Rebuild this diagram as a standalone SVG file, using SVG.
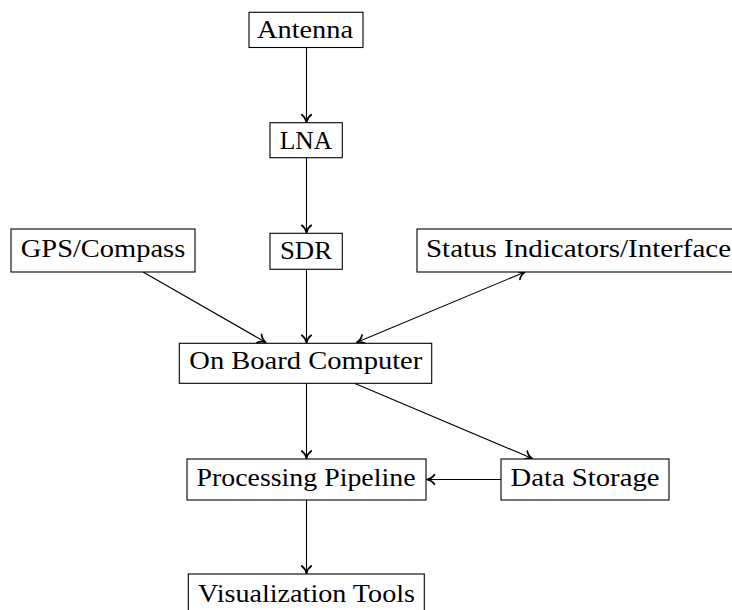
<svg xmlns="http://www.w3.org/2000/svg" width="732" height="610" viewBox="0 0 732 610">
<style>
  .box { fill: #ffffff; stroke: #000000; stroke-width: 1.1; }
  .lbl { font-family: 'Liberation Serif', 'DejaVu Serif', serif; font-size: 26px; fill: #000000; }
  .mid { text-anchor: middle; }
  .edge { fill: none; stroke: #000000; stroke-width: 1.1; }
  .end { marker-end: url(#arr); }
  .both { marker-end: url(#arr); marker-start: url(#arr); }
</style>
<defs>
  <marker id="arr" markerUnits="userSpaceOnUse" orient="auto-start-reverse" markerWidth="14" markerHeight="14" refX="0" refY="0" viewBox="-10 -7 14 14" overflow="visible">
    <path d="M-7.5,-4.8 C-5.5,-1.8 -2.5,-0.5 0,0 C-2.5,0.5 -5.5,1.8 -7.5,4.8" fill="none" stroke="#000000" stroke-width="1.7" stroke-linecap="round" stroke-linejoin="round"/>
  </marker>
</defs>
<rect width="732" height="610" fill="#ffffff"/>
<g id="connectors">
  <line class="edge end" x1="306.5" y1="47.5" x2="306.5" y2="122.2"/>
  <line class="edge end" x1="306.5" y1="157.7" x2="306.5" y2="232.8"/>
  <line class="edge end" x1="306.5" y1="269.3" x2="306.5" y2="342.8"/>
  <line class="edge end" x1="143" y1="272" x2="265.7" y2="342.3"/>
  <line class="edge both" x1="525" y1="272" x2="357" y2="342.3"/>
  <line class="edge end" x1="306.5" y1="383.3" x2="306.5" y2="458.5"/>
  <line class="edge end" x1="355" y1="383.5" x2="532.3" y2="458.5"/>
  <line class="edge end" x1="501" y1="479.5" x2="427" y2="479.5"/>
  <line class="edge end" x1="306.5" y1="500" x2="306.5" y2="573.5"/>
</g>
<g id="antenna">
  <rect class="box" x="249" y="12.3" width="114" height="35.2"/>
  <text class="lbl mid" x="305" y="37.8" textLength="96" lengthAdjust="spacingAndGlyphs">Antenna</text>
</g>
<g id="lna">
  <rect class="box" x="270" y="122.7" width="72.3" height="35"/>
  <text class="lbl mid" x="306" y="148.8" textLength="52.4" lengthAdjust="spacingAndGlyphs">LNA</text>
</g>
<g id="sdr">
  <rect class="box" x="270" y="233.3" width="72.3" height="36"/>
  <text class="lbl mid" x="306" y="259" textLength="52" lengthAdjust="spacingAndGlyphs">SDR</text>
</g>
<g id="gps">
  <rect class="box" x="11" y="229" width="184" height="43"/>
  <text class="lbl mid" x="103" y="256.5" textLength="164.5" lengthAdjust="spacingAndGlyphs">GPS/Compass</text>
</g>
<g id="status">
  <rect class="box" x="417" y="229" width="330" height="43"/>
  <text class="lbl" x="426" y="256.5" textLength="305" lengthAdjust="spacingAndGlyphs">Status Indicators/Interface</text>
</g>
<g id="obc">
  <rect class="box" x="179.3" y="343.3" width="252.4" height="40"/>
  <text class="lbl mid" x="305.8" y="369.3" textLength="233" lengthAdjust="spacingAndGlyphs">On Board Computer</text>
</g>
<g id="pipeline">
  <rect class="box" x="187" y="459" width="239" height="41"/>
  <text class="lbl mid" x="306" y="485.7" textLength="219" lengthAdjust="spacingAndGlyphs">Processing Pipeline</text>
</g>
<g id="storage">
  <rect class="box" x="501" y="459" width="168" height="41"/>
  <text class="lbl mid" x="585" y="485.7" textLength="149" lengthAdjust="spacingAndGlyphs">Data Storage</text>
</g>
<g id="viz">
  <rect class="box" x="188.3" y="574" width="236" height="40"/>
  <text class="lbl mid" x="306.5" y="601.7" textLength="217" lengthAdjust="spacingAndGlyphs">Visualization Tools</text>
</g>
</svg>
